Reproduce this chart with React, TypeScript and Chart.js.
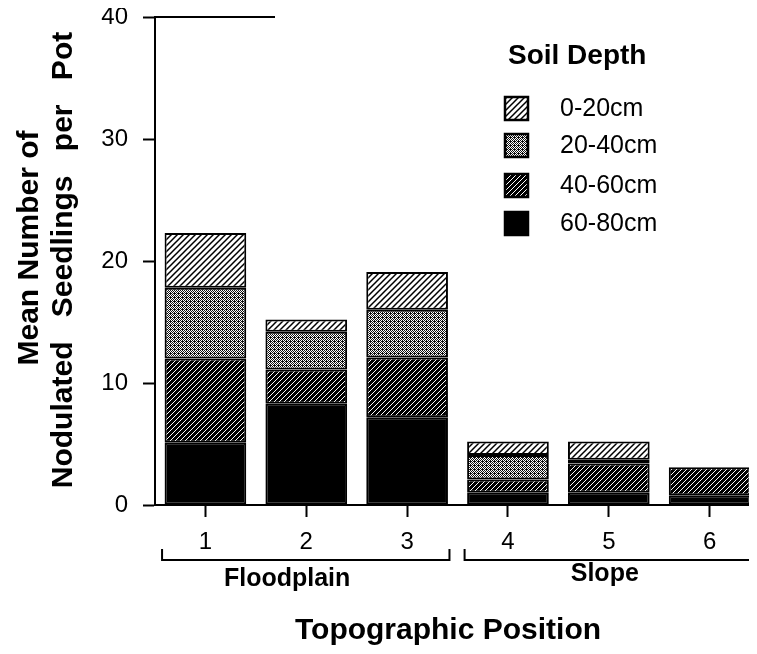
import React, { useEffect, useRef } from "react";
import { Chart, registerables } from "chart.js";

Chart.register(...registerables);

const FONT = "'Liberation Sans', Arial, Helvetica, sans-serif";

const positions = [1, 2, 3, 4, 5, 6];
const depthLabels = ["60-80cm", "40-60cm", "20-40cm", "0-20cm"];
const depth60_80 = [5.1, 8.3, 7.2, 1.0, 1.0, 0.8];
const depth40_60 = [6.9, 2.8, 4.9, 1.1, 2.4, 2.3];
const depth20_40 = [5.8, 3.1, 3.9, 2.0, 0.3, 0];
const depth0_20 = [4.5, 1.0, 3.1, 1.1, 1.5, 0];
const yTicks = [0, 10, 20, 30, 40];
const groupLabels = ["Floodplain", "Slope"];
const groupStart = [1, 4];
const groupEnd = [3, 6];
const groupLabelAt = [1.81, 4.96];
const legendTitle = "Soil Depth";
const yTitle = ["Mean Number of", "Nodulated Seedlings per Pot"];
const xTitle = "Topographic Position";

function hatch(bg: string, fg: string, size: number, lw: number): CanvasPattern | string {
  const c = document.createElement("canvas");
  c.width = size;
  c.height = size;
  const g = c.getContext("2d");
  if (!g) return bg;
  g.fillStyle = bg;
  g.fillRect(0, 0, size, size);
  g.strokeStyle = fg;
  g.lineWidth = lw;
  g.beginPath();
  g.moveTo(-1, size + 1);
  g.lineTo(size + 1, -1);
  g.moveTo(-1, 1);
  g.lineTo(1, -1);
  g.moveTo(size - 1, size + 1);
  g.lineTo(size + 1, size - 1);
  g.stroke();
  const p = g.createPattern(c, "repeat");
  return p || bg;
}

function stipple(): CanvasPattern | string {
  const c = document.createElement("canvas");
  c.width = 4;
  c.height = 4;
  const g = c.getContext("2d");
  if (!g) return "#888";
  g.fillStyle = "#fff";
  g.fillRect(0, 0, 4, 4);
  g.fillStyle = "#111";
  const dots = [[0, 0], [2, 0], [1, 1], [3, 1], [0, 2], [2, 2], [1, 3], [3, 3], [2, 1]];
  dots.forEach(([a, b]) => g.fillRect(a, b, 1, 1));
  const p = g.createPattern(c, "repeat");
  return p || "#888";
}

export default function App() {
  const ref = useRef<HTMLCanvasElement | null>(null);

  useEffect(() => {
    if (!ref.current) return;
    const fills = [
      "#000",
      hatch("#000", "#fff", 5, 1),
      stipple(),
      hatch("#fff", "#000", 6, 1.5),
    ];
    const series = [depth60_80, depth40_60, depth20_40, depth0_20];

    const extras = {
      id: "extras",
      afterDraw(chart: any) {
        const { ctx, chartArea } = chart;
        const x = chart.scales.x;
        const y = chart.scales.y;
        ctx.save();
        ctx.strokeStyle = "#000";
        ctx.fillStyle = "#000";
        ctx.lineWidth = 2;
        // partial top frame line
        const yTop = y.getPixelForValue(40);
        ctx.beginPath();
        ctx.moveTo(chartArea.left, yTop);
        ctx.lineTo(chartArea.left + 120, yTop);
        ctx.stroke();

        // group brackets
        const by = chartArea.bottom + 55;
        for (let i = 0; i < groupLabels.length; i++) {
          const x0 = x.getPixelForValue(groupStart[i] - 0.43);
          const x1 = x.getPixelForValue(groupEnd[i] + 0.42);
          ctx.beginPath();
          ctx.moveTo(x0, by - 11);
          ctx.lineTo(x0, by);
          ctx.lineTo(x1, by);
          ctx.lineTo(x1, by - 11);
          ctx.stroke();
          ctx.font = `bold 25px ${FONT}`;
          ctx.textAlign = "center";
          ctx.textBaseline = "alphabetic";
          ctx.fillText(groupLabels[i], x.getPixelForValue(groupLabelAt[i]), by + (i === 0 ? 26 : 21));
        }

        // x title
        ctx.font = `bold 30px ${FONT}`;
        ctx.textAlign = "center";
        ctx.textBaseline = "alphabetic";
        ctx.fillText(xTitle, 440, 631);

        // y title
        ctx.save();
        ctx.translate(30, 240);
        ctx.rotate(-Math.PI / 2);
        ctx.fillText(yTitle[0], 0, 0);
        ctx.restore();
        ctx.save();
        ctx.translate(64, 252);
        ctx.rotate(-Math.PI / 2);
        (ctx as any).wordSpacing = "16px";
        ctx.fillText(yTitle[1], 0, 0);
        ctx.restore();

        // legend
        ctx.textAlign = "left";
        ctx.textBaseline = "middle";
        ctx.font = `bold 28px ${FONT}`;
        ctx.fillText(legendTitle, 500, 48);
        ctx.font = `25px ${FONT}`;
        const ds = chart.data.datasets;
        const order = [3, 2, 1, 0];
        const ys = [100, 137, 177, 215];
        order.forEach((di: number, k: number) => {
          const d = ds[di];
          const cy = ys[k];
          ctx.fillStyle = d.backgroundColor;
          ctx.fillRect(497, cy - 11, 23, 23);
          ctx.lineWidth = 2.5;
          ctx.strokeStyle = "#000";
          ctx.strokeRect(497, cy - 11, 23, 23);
          ctx.fillStyle = "#000";
          ctx.fillText(d.label, 552, cy + 1);
        });
        ctx.restore();
      },
    };

    const chart = new Chart(ref.current, {
      type: "bar",
      data: {
        datasets: series.map((vals, i) => ({
          label: depthLabels[i],
          data: positions.map((p, j) => ({ x: p, y: vals[j] })),
          backgroundColor: fills[i] as any,
          borderColor: "#000",
          borderWidth: 2,
          borderSkipped: false,
          categoryPercentage: 1,
          barPercentage: 0.81,
        })),
      },
      options: {
        animation: false,
        responsive: false,
        maintainAspectRatio: false,
        layout: { padding: { top: 9, right: 5, left: 0, bottom: 0 } },
        plugins: { legend: { display: false }, tooltip: { enabled: false }, title: { display: false } },
        scales: {
          x: {
            type: "linear",
            min: 0.5,
            max: 6.42,
            stacked: true,
            offset: false,
            afterBuildTicks: (s: any) => {
              s.ticks = positions.map((v) => ({ value: v }));
            },
            afterFit: (s: any) => {
              s.height = 143;
              s.paddingLeft = 0;
              s.paddingRight = 0;
            },
            grid: { offset: false, drawOnChartArea: false, drawTicks: true, tickLength: 12, tickWidth: 2, tickColor: "#000" },
            border: { display: true, color: "#000", width: 2 },
            ticks: { color: "#000", font: { size: 24, family: FONT }, padding: 11, autoSkip: false, maxRotation: 0 },
          },
          y: {
            min: 0,
            max: 40,
            stacked: true,
            afterBuildTicks: (s: any) => {
              s.ticks = yTicks.map((v) => ({ value: v }));
            },
            afterFit: (s: any) => {
              s.width = 147;
              s.paddingTop = 0;
              s.paddingBottom = 0;
            },
            grid: { drawOnChartArea: false, drawTicks: true, tickLength: 12, tickWidth: 2, tickColor: "#000" },
            border: { display: true, color: "#000", width: 2 },
            ticks: { color: "#000", font: { size: 24, family: FONT }, padding: 15 },
          },
        },
      } as any,
      plugins: [extras],
    });
    return () => chart.destroy();
  }, []);

  return (
    <div style={{ width: 749, height: 640, marginRight: -8 }}>
      <canvas ref={ref} width={749} height={640} style={{ width: 749, height: 640, display: "block" }} />
    </div>
  );
}
